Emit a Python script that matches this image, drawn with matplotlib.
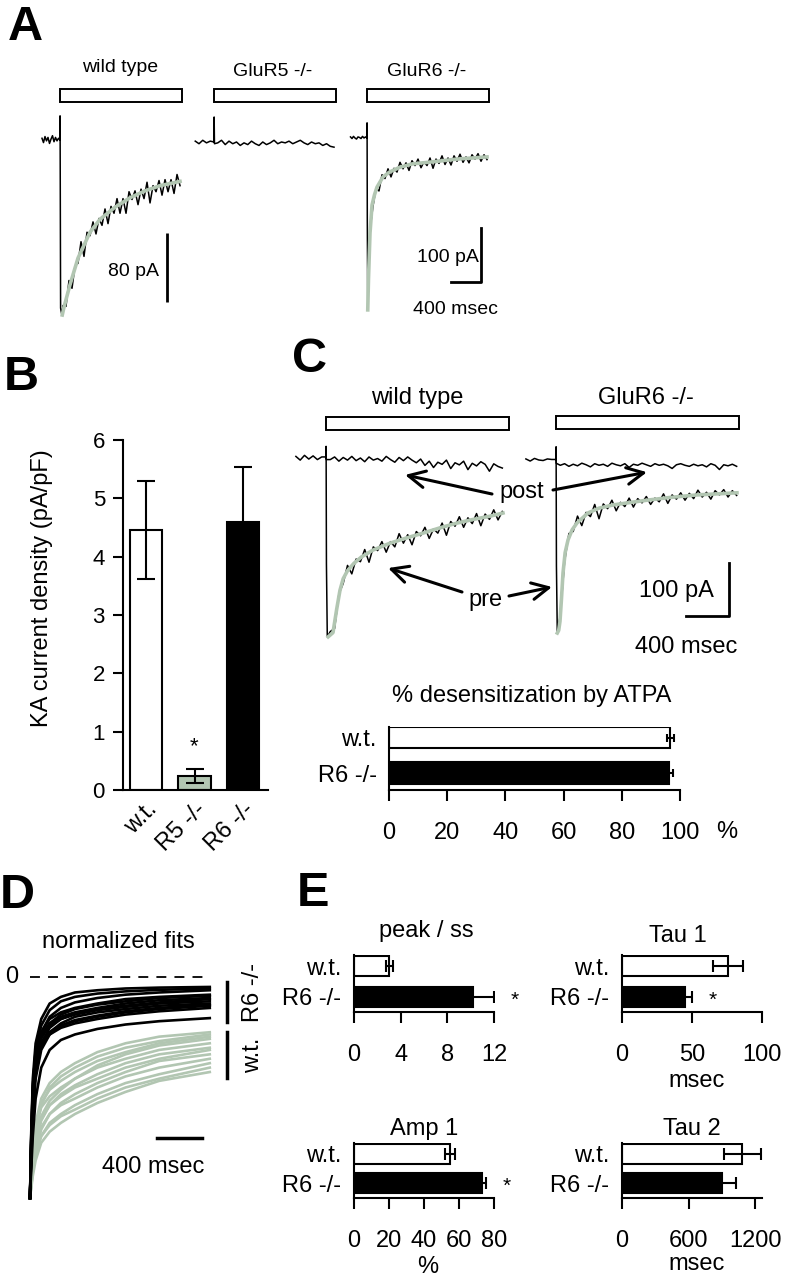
import numpy as np
import matplotlib.pyplot as plt
from matplotlib.patches import Rectangle
import matplotlib.transforms as mtransforms

plt.rcParams['font.family'] = ['Liberation Sans', 'DejaVu Sans']
plt.rcParams['font.size'] = 17

W, H = 791, 1280
GREEN = '#b2c6b2'

# ---------------- A: example currents (ms, pA) ----------------
drug_a_ms = 1620
# wild type
wtA_base = [2, -3, 4, -1, 3, -4, 1, 5, -2, 3, -1, 2]            # 20 ms steps before onset
wtA_on_t = [0, 1, 8, 25]
wtA_on = [0, 28, -195, -203]
wtA_tail = [-192, -193, -163, -172, -146, -143, -118, -135, -107, -111,
            -95, -109, -91, -99, -80, -97, -77, -85, -68, -85,
            -68, -85, -60, -69, -59, -75, -57, -68, -49, -73,
            -53, -60, -47, -64, -46, -60, -46, -62, -40, -53]    # 40 ms steps
wtA_fit_t = [30, 53, 133, 240, 400, 533, 733, 933, 1133, 1333, 1493, 1600]
wtA_fit = [-203, -194, -168, -137, -107, -92, -78, -67, -59, -53, -50, -48]
# GluR5 -/-
r5A_base = [1, -2, 2, -1, 1]                                     # 50 ms steps
r5A_on_t = [0, 2, 6]
r5A_on = [0, 29, -2]
r5A_tail = [-1, 2, -3, 1, -2, 0, -4, -1, -3, 1, -2, -4, 0, -3, -1, 2,
            -2, 0, -1, 1, -2, 0, 2, -1, -3, 0, -2, -1, -4, -2, -5, -6]
# GluR6 -/-
r6A_base = [2, -1, 3, 0, -2, 2, 1, -1, 3, 0, 2]                  # 20 ms steps
r6A_on_t = [0, 1, 4, 10]
r6A_on = [0, 28, -150, -318]
r6A_tail = [-170, -126, -93, -98, -68, -75, -57, -72, -56, -63,
            -45, -57, -46, -60, -42, -51, -39, -55, -44, -51,
            -37, -56, -39, -47, -33, -49, -37, -50, -33, -43,
            -30, -45, -35, -46, -31, -39, -29, -43, -31, -40]    # 40 ms steps
r6A_fit_t = [10, 20, 40, 67, 100, 133, 213, 300, 440, 600, 880, 1200, 1600]
r6A_fit = [-318, -260, -176, -124, -105, -91, -72, -63, -54, -48, -44, -39, -35]

# ---------------- B: KA current density ----------------
b_groups = ['w.t.', 'R5 -/-', 'R6 -/-']
b_mean = [4.45, 0.24, 4.6]
b_sem = [0.84, 0.12, 0.94]
b_colors = ['white', GREEN, 'black']

# ---------------- C: pre / post ATPA (ms, pA) ----------------
drug_c_ms = 1700
wtC_post_base = [3, -4, 5, -2, 4, -3, 2]                         # 40 ms steps
wtC_post_on_t = [0, 1]
wtC_post_on = [2, -3]
wtC_post_tail = [-3, 2, -6, 1, -4, 3, -5, 0, -7, 2, -4, -1, -6, 3, -3, -8, 1,
                 -5, 2, -4, -9, -2, -14, -6, -18, -8, -12, -4, -20, -9, -13,
                 -6, -22, -10, -15, -7, -12, -25, -11, -16, -19]
wtC_pre_on_t = [0, 1, 4, 12]
wtC_pre_on = [0, 22, -200, -338]
wtC_pre_tail = [-328, -322, -257, -237, -203, -219, -191, -196, -173, -197,
                -168, -175, -158, -178, -158, -168, -143, -161, -145, -164,
                -139, -147, -131, -152, -134, -142, -123, -146, -120, -129,
                -111, -131, -113, -124, -105, -128, -106, -116, -98, -117, -101]
wtC_fit_t = [20, 65, 100, 130, 160, 200, 260, 330, 437, 595, 750, 902, 1060, 1218, 1370, 1525, 1646]
wtC_fit = [-338, -330, -285, -250, -228, -213, -199, -187, -174, -161, -151, -142, -132, -123, -116, -110, -104]

r6C_post_base = [2, -2, 3, 0, -1, 2, 1]
r6C_post_on_t = [0, 1]
r6C_post_on = [1, -6]
r6C_post_tail = [-10, -7, -12, -8, -11, -6, -9, -13, -7, -10, -8, -12, -6, -9,
                 -11, -7, -14, -8, -10, -6, -9, -12, -7, -10, -8, -11, -16, -9,
                 -7, -10, -12, -8, -11, -9, -13, -7, -10, -18, -9, -11, -8, -12]
r6C_pre_on_t = [0, 1, 4, 12]
r6C_pre_on = [0, 25, -200, -327]
r6C_pre_tail = [-293, -192, -139, -135, -106, -124, -99, -107, -84, -111,
                -83, -92, -76, -96, -80, -88, -72, -89, -73, -81,
                -69, -84, -72, -79, -64, -82, -66, -74, -62, -76,
                -63, -73, -57, -70, -61, -74, -58, -66, -56, -70, -58, -67]
r6C_fit_t = [12, 25, 37, 50, 65, 85, 112, 150, 195, 298, 400, 530, 700, 846, 1050, 1311, 1500, 1683]
r6C_fit = [-327, -322, -305, -265, -214, -175, -151, -132, -119, -100, -91, -85, -80, -76, -71, -66, -64, -62]

desens_mean = [96.6, 96.2]     # w.t., R6 -/-
desens_sem = [1.2, 1.4]

# ---------------- D: normalized fits ----------------
d_t = [0, 10, 25, 50, 100, 175, 275, 400, 600, 850, 1150, 1600]
d_r6 = [
    [-1, -0.72, -0.46, -0.30, -0.19, -0.12, -0.09, -0.07, -0.06, -0.052, -0.048, -0.045],
    [-1, -0.75, -0.50, -0.33, -0.22, -0.15, -0.11, -0.09, -0.075, -0.065, -0.058, -0.052],
    [-1, -0.78, -0.55, -0.37, -0.25, -0.18, -0.14, -0.115, -0.095, -0.08, -0.07, -0.06],
    [-1, -0.74, -0.49, -0.34, -0.25, -0.19, -0.16, -0.14, -0.12, -0.10, -0.09, -0.08],
    [-1, -0.80, -0.58, -0.40, -0.28, -0.21, -0.17, -0.145, -0.125, -0.11, -0.095, -0.085],
    [-1, -0.77, -0.53, -0.36, -0.26, -0.21, -0.18, -0.16, -0.14, -0.12, -0.105, -0.095],
    [-1, -0.82, -0.60, -0.42, -0.30, -0.23, -0.19, -0.165, -0.145, -0.13, -0.115, -0.10],
    [-1, -0.76, -0.52, -0.36, -0.27, -0.22, -0.19, -0.17, -0.15, -0.135, -0.12, -0.11],
    [-1, -0.81, -0.59, -0.42, -0.31, -0.25, -0.21, -0.18, -0.16, -0.145, -0.13, -0.12],
    [-1, -0.79, -0.56, -0.40, -0.30, -0.25, -0.22, -0.195, -0.175, -0.155, -0.14, -0.125],
    [-1, -0.84, -0.64, -0.46, -0.33, -0.26, -0.22, -0.20, -0.18, -0.16, -0.145, -0.13],
    [-1, -0.80, -0.58, -0.42, -0.31, -0.26, -0.23, -0.21, -0.19, -0.17, -0.155, -0.14],
    [-1, -0.88, -0.72, -0.55, -0.41, -0.33, -0.285, -0.26, -0.235, -0.215, -0.20, -0.186],
]
d_wt = [
    [-1, -0.90, -0.78, -0.66, -0.55, -0.48, -0.43, -0.39, -0.34, -0.30, -0.27, -0.25],
    [-1, -0.92, -0.82, -0.70, -0.58, -0.50, -0.45, -0.41, -0.36, -0.32, -0.29, -0.26],
    [-1, -0.91, -0.80, -0.68, -0.57, -0.51, -0.47, -0.43, -0.38, -0.34, -0.30, -0.27],
    [-1, -0.93, -0.84, -0.74, -0.63, -0.56, -0.51, -0.46, -0.40, -0.35, -0.31, -0.28],
    [-1, -0.90, -0.79, -0.68, -0.59, -0.54, -0.50, -0.46, -0.41, -0.37, -0.33, -0.30],
    [-1, -0.94, -0.86, -0.76, -0.65, -0.58, -0.53, -0.49, -0.44, -0.39, -0.35, -0.32],
    [-1, -0.92, -0.83, -0.73, -0.64, -0.58, -0.54, -0.50, -0.46, -0.41, -0.37, -0.33],
    [-1, -0.95, -0.88, -0.79, -0.69, -0.62, -0.57, -0.53, -0.48, -0.43, -0.38, -0.35],
    [-1, -0.93, -0.85, -0.76, -0.68, -0.62, -0.58, -0.55, -0.50, -0.45, -0.41, -0.37],
    [-1, -0.95, -0.88, -0.80, -0.72, -0.66, -0.62, -0.58, -0.53, -0.48, -0.44, -0.39],
    [-1, -0.94, -0.87, -0.79, -0.72, -0.67, -0.63, -0.60, -0.55, -0.50, -0.46, -0.41],
    [-1, -0.96, -0.90, -0.83, -0.75, -0.70, -0.66, -0.62, -0.57, -0.52, -0.47, -0.43],
]

# ---------------- E: fit parameters (w.t., R6 -/-) ----------------
peak_mean, peak_sem = [3.0, 10.2], [0.3, 1.8]
tau1_mean, tau1_sem = [75.7, 45.0], [10.5, 5.0]
amp1_mean, amp1_sem = [54.9, 73.0], [2.8, 2.3]
tau2_mean, tau2_sem = [1082, 900], [165, 127]


fig = plt.figure(figsize=(W / 100, H / 100), dpi=100)


def box(l, t, r, b):
    return [l / W, 1 - b / H, (r - l) / W, (b - t) / H]


def ftxt(x, y, s, **kw):
    kw.setdefault('ha', 'center')
    kw.setdefault('va', 'center')
    fig.text(x / W, 1 - y / H, s, **kw)


def trace_ax(l, t, r, b, t0, base, ms_px, pa_px):
    ax = fig.add_axes(box(l, t, r, b))
    ax.set_xlim((l - t0) * ms_px, (r - t0) * ms_px)
    ax.set_ylim((base - b) * pa_px, (base - t) * pa_px)
    ax.axis('off')
    return ax


def drug_bar(ax, dur, y_top, y_bot, base, pa_px):
    ax.add_patch(Rectangle((0, (base - y_bot) * pa_px), dur, (y_bot - y_top) * pa_px,
                           fc='white', ec='black', lw=1.4, clip_on=False))


def sweep(base, base_dt, on_t, on_v, tail, tail_dt):
    t_base = -base_dt * np.arange(len(base), 0, -1)
    t_tail = tail_dt * np.arange(1, len(tail) + 1)
    return (np.concatenate([t_base, on_t, t_tail]),
            np.concatenate([np.asarray(base, float), on_v, tail]))


def fpos(x, y):
    return (x / W, 1 - y / H)


# ---- panel letters ----
for lab, x, y in [('A', 25, 28), ('B', 21, 378), ('C', 309, 360), ('D', 17, 895), ('E', 313, 893)]:
    ftxt(x, y, lab, fontsize=35, fontweight='bold')

# ---- A ----
axA1 = trace_ax(40, 85, 192, 320, 60, 140, 13.33, 1.16)
drug_bar(axA1, drug_a_ms, 89, 102, 140, 1.16)
t, v = sweep(wtA_base, 20, wtA_on_t, wtA_on, wtA_tail, 40)
axA1.plot(t, v, color='black', lw=1.1)
axA1.plot(wtA_fit_t, wtA_fit, color=GREEN, lw=2.6)
axA1.plot([1430, 1430], [-188, -108], color='black', lw=2, solid_capstyle='butt')
ftxt(120, 67, 'wild type', fontsize=14)
ftxt(134, 272, '80 pA', fontsize=14)

axA2 = trace_ax(192, 85, 344, 320, 214, 142, 13.33, 1.16)
drug_bar(axA2, drug_a_ms, 89, 102, 142, 1.16)
t, v = sweep(r5A_base, 50, r5A_on_t, r5A_on, r5A_tail, 50)
axA2.plot(t, v, color='black', lw=1.1)
ftxt(273, 71, 'GluR5 -/-', fontsize=14)

axA3 = trace_ax(344, 85, 496, 320, 367, 138, 13.33, 1.85)
drug_bar(axA3, drug_a_ms, 89, 102, 138, 1.85)
t, v = sweep(r6A_base, 20, r6A_on_t, r6A_on, r6A_tail, 40)
axA3.plot(t, v, color='black', lw=1.1)
axA3.plot(r6A_fit_t, r6A_fit, color=GREEN, lw=2.6)
axA3.plot([1120, 1520, 1520], [-266, -266, -166], color='black', lw=2)
ftxt(427, 71, 'GluR6 -/-', fontsize=14)
ftxt(448, 257, '100 pA', fontsize=14)
ftxt(455, 309, '400 msec', fontsize=14)

# ---- B ----
axB = fig.add_axes(box(123, 440, 268, 790))
xb = np.arange(len(b_groups))
axB.bar(xb, b_mean, width=0.66, color=b_colors, edgecolor='black', linewidth=1.5,
        yerr=b_sem, capsize=6.5, error_kw=dict(elinewidth=1.5, capthick=1.5, ecolor='black'))
axB.text(1, 0.75, '*', ha='center', va='center', fontsize=16)
axB.set_xlim(-0.474, 2.515)
axB.set_ylim(0, 6)
axB.set_yticks(range(7))
axB.set_xticks(xb)
axB.set_xticklabels(b_groups, rotation=45, ha='right', va='top', rotation_mode='anchor')
for lbl in axB.get_xticklabels():
    lbl.set_transform(lbl.get_transform() + mtransforms.ScaledTranslation(0.09, 0, fig.dpi_scale_trans))
axB.tick_params(axis='y', length=7, width=1.5, pad=6, labelsize=16)
axB.tick_params(axis='x', length=0, pad=6, labelsize=17)
for s in ['top', 'right']:
    axB.spines[s].set_visible(False)
for s in ['left', 'bottom']:
    axB.spines[s].set_linewidth(1.5)
ftxt(42, 588, 'KA current density (pA/pF)', rotation=90, fontsize=17)

# ---- C traces ----
axC1 = trace_ax(292, 405, 520, 650, 326, 458, 9.3, 1.89)
drug_bar(axC1, drug_c_ms, 417, 430, 458, 1.89)
t, v = sweep(wtC_post_base, 40, wtC_post_on_t, wtC_post_on, wtC_post_tail, 40)
axC1.plot(t, v, color='black', lw=1.1)
t, v = sweep([], 40, wtC_pre_on_t, wtC_pre_on, wtC_pre_tail, 40)
axC1.plot(t, v, color='black', lw=1.1)
axC1.plot(wtC_fit_t, wtC_fit, color=GREEN, lw=2.6)
ftxt(417, 404, 'wild type', va='baseline')

axC2 = trace_ax(522, 405, 750, 650, 556, 460, 9.3, 1.89)
drug_bar(axC2, drug_c_ms, 416, 429, 460, 1.89)
t, v = sweep(r6C_post_base, 40, r6C_post_on_t, r6C_post_on, r6C_post_tail, 40)
axC2.plot(t, v, color='black', lw=1.1)
t, v = sweep([], 40, r6C_pre_on_t, r6C_pre_on, r6C_pre_tail, 40)
axC2.plot(t, v, color='black', lw=1.1)
axC2.plot(r6C_fit_t, r6C_fit, color=GREEN, lw=2.6)
axC2.plot([1209, 1609, 1609], [-295, -295, -195], color='black', lw=2)
ftxt(646, 404, 'GluR6 -/-', va='baseline')
ftxt(676, 597, '100 pA', va='baseline')
ftxt(686, 653, '400 msec', va='baseline')

arrow = dict(arrowstyle='->,head_length=0.6,head_width=0.3', lw=2.2, color='black',
             shrinkA=0, shrinkB=0, mutation_scale=20)
ftxt(522, 498, 'post', va='baseline')
ftxt(485, 606, 'pre', va='baseline')
axC1.annotate('', xy=(735, -32), xytext=fpos(492, 494), textcoords='figure fraction', arrowprops=arrow)
axC2.annotate('', xy=(846, -23), xytext=fpos(553, 490), textcoords='figure fraction', arrowprops=arrow)
axC1.annotate('', xy=(577, -208), xytext=fpos(462, 592), textcoords='figure fraction', arrowprops=arrow)
axC2.annotate('', xy=(-37, -240), xytext=fpos(509, 596), textcoords='figure fraction', arrowprops=arrow)


def hbars(l, t, r, b, vals, errs, xmax, ticks, cap, h, ylim):
    ax = fig.add_axes(box(l, t, r, b))
    ax.barh([1, 0], vals, height=h, xerr=errs, color=['white', 'black'], edgecolor='black',
            linewidth=1.5, capsize=cap, error_kw=dict(elinewidth=1.5, capthick=1.5, ecolor='black'))
    ax.set_xlim(0, xmax)
    ax.set_ylim(*ylim)
    ax.set_xticks(ticks)
    ax.set_yticks([1, 0])
    ax.set_yticklabels(['w.t.', 'R6 -/-'])
    for s in ['top', 'right']:
        ax.spines[s].set_visible(False)
    for s in ['left', 'bottom']:
        ax.spines[s].set_linewidth(1.5)
    ax.tick_params(axis='x', length=8, width=1.5, pad=15, labelsize=17)
    ax.tick_params(axis='y', length=0, pad=9, labelsize=17)
    return ax


# ---- C desensitization ----
axCd = hbars(389, 727, 680, 790, desens_mean, desens_sem, 100, range(0, 101, 20), 3, 0.6, (-0.48, 1.3))
ftxt(532, 702, '% desensitization by ATPA', va='baseline')
ftxt(727, 838, '%', va='baseline')

# ---- D ----
axD = fig.add_axes(box(20, 955, 245, 1210))
axD.set_xlim((20 - 30) * 8.9, (245 - 30) * 8.9)
axD.set_ylim(-(1210 - 977) / 221, (977 - 955) / 221)
axD.axis('off')
for curve in d_wt:
    axD.plot(d_t, curve, color=GREEN, lw=1.9)
for curve in d_r6:
    axD.plot(d_t, curve, color='black', lw=1.9)
axD.plot([0, 1602], [0, 0], color='black', lw=1.3, dashes=(5.5, 4.5))
axD.plot([1753, 1753], [-0.023, -0.204], color='black', lw=2.5)
axD.plot([1753, 1753], [-0.249, -0.457], color='black', lw=2.5)
axD.plot([1130, 1530], [-0.729, -0.729], color='black', lw=2.5)
ftxt(118, 948, 'normalized fits', va='baseline')
ftxt(12, 977, '0')
ftxt(253, 992, 'R6 -/-', rotation=90)
ftxt(253, 1055, 'w.t.', rotation=90)
ftxt(153, 1173, '400 msec', va='baseline')

# ---- E ----
yl = (-0.5, 1.37)
axE1 = hbars(354, 955, 494, 1012, peak_mean, peak_sem, 12, [0, 4, 8, 12], 4.3, 0.67, yl)
axE1.text(13.8, -0.12, '*', ha='center', va='center', fontsize=15, clip_on=False)
ftxt(426, 937, 'peak / ss', va='baseline')

axE2 = hbars(622, 955, 762, 1012, tau1_mean, tau1_sem, 100, [0, 50, 100], 4.3, 0.67, yl)
axE2.text(65, -0.12, '*', ha='center', va='center', fontsize=15, clip_on=False)
ftxt(678, 942, 'Tau 1', va='baseline')
ftxt(697, 1087, 'msec', va='baseline')

axE3 = hbars(354, 1143, 494, 1198, amp1_mean, amp1_sem, 80, [0, 20, 40, 60, 80], 4.3, 0.67, yl)
axE3.text(87.4, -0.12, '*', ha='center', va='center', fontsize=15, clip_on=False)
ftxt(424, 1135, 'Amp 1', va='baseline')
ftxt(428, 1273, '%', va='baseline')

axE4 = hbars(622, 1143, 762, 1198, tau2_mean, tau2_sem, 1260, [0, 600, 1200], 4.3, 0.67, yl)
ftxt(692, 1135, 'Tau 2', va='baseline')
ftxt(697, 1270, 'msec', va='baseline')

fig.savefig('out.png', dpi=100)
